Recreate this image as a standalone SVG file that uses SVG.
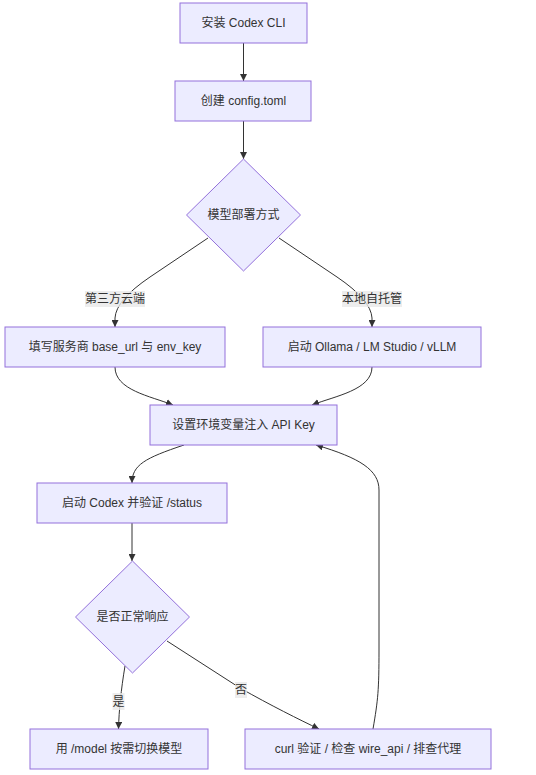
<svg xmlns="http://www.w3.org/2000/svg" width="536" height="775" viewBox="0 0 536 775">
<style>
.node rect,.node polygon{fill:#ECECFF;stroke:#9370DB;stroke-width:1}
text{font-family:"Liberation Sans","Noto Sans CJK SC",sans-serif;font-size:12px;fill:#333;text-anchor:middle;dominant-baseline:central}
.edge{fill:none;stroke:#333;stroke-width:1;marker-end:url(#arrow)}
.lbl rect{fill:#e8e8e8;opacity:0.8}
</style>
<defs>
<marker id="arrow" viewBox="0 0 10 10" refX="10" refY="5" markerWidth="7" markerHeight="7" markerUnits="userSpaceOnUse" orient="auto">
<path d="M0,0 L10,5 L0,10 z" fill="#333"/>
</marker>
</defs>
<rect width="536" height="775" fill="#fff"/>
<g id="connectors">
<path class="edge" d="M243.5,43 L243.5,81"/>
<path class="edge" d="M243.5,121 L243.5,159"/>
<path class="edge" d="M208,238 L150,277 Q116,300 115,318 L115,327"/>
<path class="edge" d="M279,238 L337,277 Q371,300 372,318 L372,327"/>
<path class="edge" d="M115,367 C115,390 150,396 173,405"/>
<path class="edge" d="M372,367 C372,390 335,396 312,405"/>
<path class="edge" d="M184,445 C145,458 132,465 132,483"/>
<path class="edge" d="M132,523 L132,561"/>
<path class="edge" d="M125,666 C121,690 119,710 118.5,729"/>
<path class="edge" d="M167,641 L240,688 C270,705 300,720 319,729"/>
<path class="edge" d="M373,729 C378,700 379,690 379,650 L379,490 C379,470 360,458 316,445"/>
<g class="lbl"><rect x="85" y="291" width="60" height="16"/><text x="115" y="299">第三方云端</text></g>
<g class="lbl"><rect x="342" y="291" width="60" height="16"/><text x="372" y="299">本地自托管</text></g>
<g class="lbl"><rect x="112.5" y="693" width="12" height="17"/><text x="118.5" y="701.5">是</text></g>
<g class="lbl"><rect x="235" y="682" width="12" height="16"/><text x="241" y="690">否</text></g>
</g>
<g id="n1" class="node"><rect x="180" y="3" width="127" height="40"/><text x="243.5" y="23">安装 Codex CLI</text></g>
<g id="n2" class="node"><rect x="175" y="81" width="136" height="40"/><text x="243.5" y="101">创建 config.toml</text></g>
<g id="n3" class="node"><polygon points="243.5,159 300.5,215 243.5,271 186.5,215"/><text x="243.5" y="215">模型部署方式</text></g>
<g id="n4" class="node"><rect x="5" y="327" width="220" height="40"/><text x="115" y="347">填写服务商 base_url 与 env_key</text></g>
<g id="n5" class="node"><rect x="263" y="327" width="218" height="40"/><text x="372" y="347">启动 Ollama / LM Studio / vLLM</text></g>
<g id="n6" class="node"><rect x="150" y="405" width="187" height="40"/><text x="243.5" y="425">设置环境变量注入 API Key</text></g>
<g id="n7" class="node"><rect x="37" y="483" width="190" height="40"/><text x="132" y="503">启动 Codex 并验证 /status</text></g>
<g id="n8" class="node"><polygon points="132.5,561 189.5,617 132.5,673 75.5,617"/><text x="132.5" y="617">是否正常响应</text></g>
<g id="n9" class="node"><rect x="30" y="729" width="178" height="40"/><text x="119" y="749">用 /model 按需切换模型</text></g>
<g id="n10" class="node"><rect x="245" y="729" width="246" height="40"/><text x="368" y="749">curl 验证 / 检查 wire_api / 排查代理</text></g>
</svg>
